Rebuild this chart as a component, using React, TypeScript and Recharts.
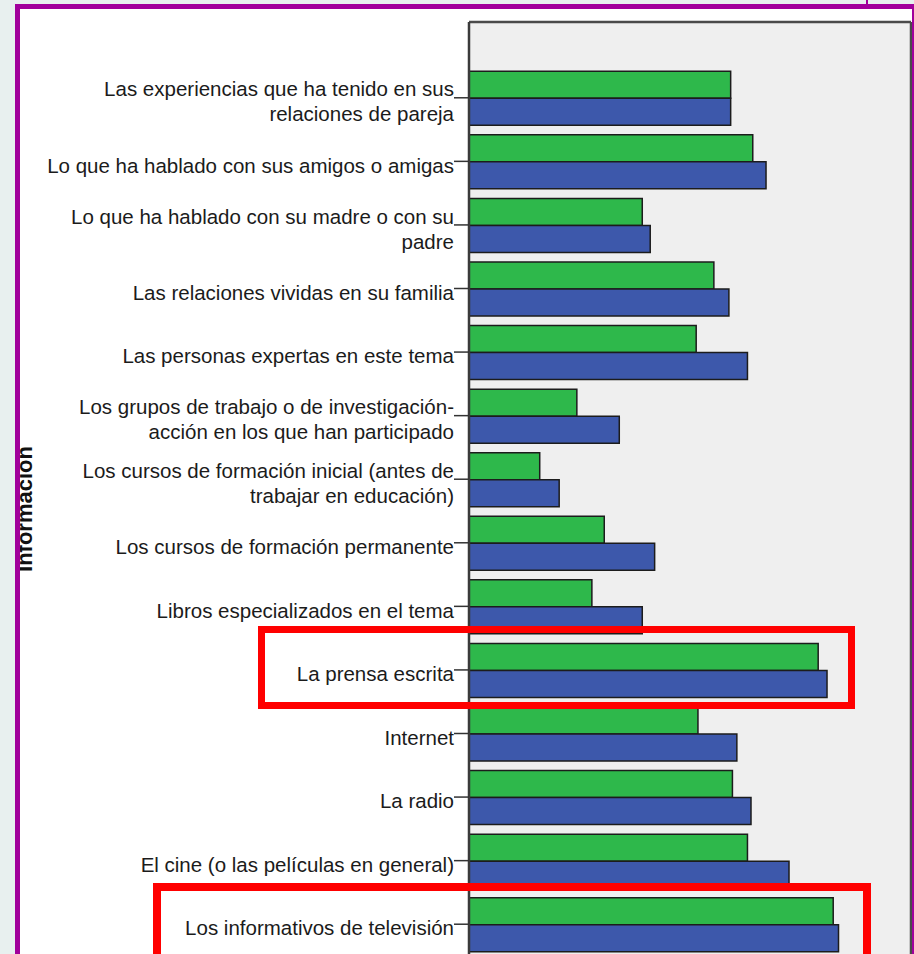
import React from 'react';
import { BarChart, Bar, XAxis, YAxis, CartesianGrid } from 'recharts';

const categories = [
  'Las experiencias que ha tenido en sus\nrelaciones de pareja',
  'Lo que ha hablado con sus amigos o amigas',
  'Lo que ha hablado con su madre o con su\npadre',
  'Las relaciones vividas en su familia',
  'Las personas expertas en este tema',
  'Los grupos de trabajo o de investigación-\nacción en los que han participado',
  'Los cursos de formación inicial (antes de\ntrabajar en educación)',
  'Los cursos de formación permanente',
  'Libros especializados en el tema',
  'La prensa escrita',
  'Internet',
  'La radio',
  'El cine (o las películas en general)',
  'Los informativos de televisión',
];

const seriesGreen = [29.6, 32.1, 19.6, 27.7, 25.7, 12.2, 8.0, 15.3, 13.9, 39.5, 25.9, 29.8, 31.5, 41.2];
const seriesBlue = [29.6, 33.6, 20.5, 29.4, 31.5, 17.0, 10.2, 21.0, 19.6, 40.5, 30.3, 31.9, 36.2, 41.8];
const xTicks = [0, 10, 20, 30, 40, 50];
const yTitle = 'Información';

const data = categories.map((name, i) => ({ name, green: seriesGreen[i], blue: seriesBlue[i] }));

const CategoryTick = (props: any) => {
  const { x, y, payload } = props;
  const lines = String(payload.value).split('\n');
  const lh = 25;
  const start = y + 4 - ((lines.length - 1) * lh) / 2;
  return (
    <text x={x} y={start} textAnchor="end" fontFamily="'Liberation Sans', Arial, sans-serif" fontSize={20.5} fill="#1b1b1b">
      {lines.map((l, i) => (
        <tspan key={i} x={x} y={start + i * lh} dy="0.35em">{l}</tspan>
      ))}
    </text>
  );
};

export default function App() {
  return (
    <div style={{ position: 'absolute', left: 0, top: 0, width: 914, height: 954, overflow: 'hidden', background: '#e8f0ef' }}>
      <div style={{ position: 'absolute', left: 866, top: 0, width: 2, height: 5, background: '#a1009b' }} />
      <div
        style={{
          position: 'absolute',
          left: 15,
          top: 4,
          width: 902,
          height: 1000,
          boxSizing: 'border-box',
          border: '5px solid #a1009b',
          background: '#ffffff',
          overflow: 'hidden',
        }}
      >
        <div style={{ position: 'absolute', left: -20, top: -9 }}>
          <BarChart
            width={914}
            height={1000}
            data={data}
            layout="vertical"
            margin={{ top: 21, right: 2, bottom: 30, left: 0 }}
            barCategoryGap="8.3%"
            barGap={0}
          >
            <CartesianGrid fill="#efefef" horizontal={false} vertical={false} />
            <XAxis xAxisId="main" type="number" domain={[0, 50]} ticks={xTicks} hide />
            <XAxis
              xAxisId="top"
              orientation="top"
              type="number"
              domain={[0, 50]}
              height={1}
              tick={false}
              tickLine={false}
              axisLine={{ stroke: '#4a4a4a', strokeWidth: 2.5 }}
            />
            <YAxis
              yAxisId="main"
              type="category"
              dataKey="name"
              width={469}
              tickSize={15}
              tickMargin={0}
              tick={<CategoryTick />}
              tickLine={{ stroke: '#333', strokeWidth: 1.5 }}
              axisLine={{ stroke: '#3a3a3a', strokeWidth: 2.5 }}
              padding={{ top: 44, bottom: 14 }}
              interval={0}
              label={{
                value: yTitle,
                content: () => (
                  <text
                    x={32}
                    y={509}
                    transform="rotate(-90 32 509)"
                    textAnchor="middle"
                    fontFamily="'Liberation Sans', Arial, sans-serif"
                    fontWeight="bold"
                    fontSize={22}
                    fill="#111"
                  >
                    {yTitle}
                  </text>
                ),
              }}
            />
            <YAxis
              yAxisId="right"
              orientation="right"
              type="category"
              dataKey="name"
              width={1}
              tick={false}
              tickLine={false}
              axisLine={{ stroke: '#4a4a4a', strokeWidth: 2.5 }}
            />
            <Bar xAxisId="main" yAxisId="main" dataKey="green" name="Grupo 1" fill="#2eb84b" stroke="#1c1c1c" strokeWidth={1.5} isAnimationActive={false} />
            <Bar xAxisId="main" yAxisId="main" dataKey="blue" name="Grupo 2" fill="#3d58ab" stroke="#1c1c1c" strokeWidth={1.5} isAnimationActive={false} />
          </BarChart>
        </div>
      </div>
      <div style={{ position: 'absolute', left: 258, top: 626, width: 597, height: 83, boxSizing: 'border-box', border: '7.5px solid #ff0000' }} />
      <div style={{ position: 'absolute', left: 153, top: 883, width: 718, height: 120, boxSizing: 'border-box', border: '8px solid #ff0000' }} />
    </div>
  );
}
